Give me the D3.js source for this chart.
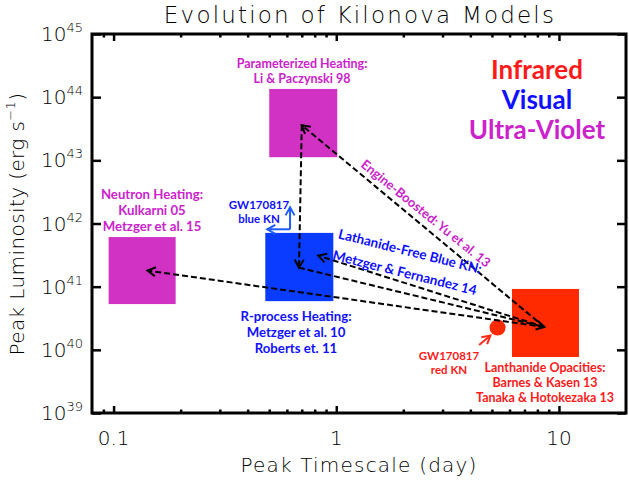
<!DOCTYPE html>
<html><head><meta charset="utf-8">
<script src="https://cdn.jsdelivr.net/npm/d3@7"></script>
<style>
html,body{margin:0;padding:0;background:#fff;}
svg{display:block;}
.thin{font-family:"DejaVu Sans",sans-serif;font-weight:200;fill:#000;}
.ann{font-family:"Lato",sans-serif;font-weight:bold;}
</style></head>
<body>
<svg id="c" width="629" height="480"></svg>
<script>
// ---------------- data ----------------
const models = ["Neutron Heating","Parameterized Heating","R-process Heating","Lanthanide Opacities"];
const modelBand = ["Ultra-Violet","Ultra-Violet","Visual","Infrared"];
const tMin = [0.095, 0.50, 0.48, 6.15];   // peak timescale (day)
const tMax = [0.19, 1.01, 0.97, 12.3];
const lMin = [5.3e40, 1.12e43, 5.9e40, 7.7e39]; // peak luminosity (erg/s)
const lMax = [6.1e41, 1.35e44, 7.1e41, 9.2e40];

const bands = ["Infrared","Visual","Ultra-Violet"];

// GW170817 red kilonova point
const redKN_t = [5.3];
const redKN_L = [2.25e40];

// dashed evolution arrows
const arrowFromT = [8.6, 0.70, 0.68, 8.6, 8.6];
const arrowFromL = [2.3e40, 3.6e43, 2.0e41, 2.3e40, 2.3e40];
const arrowToT   = [0.70, 0.68, 8.6, 0.83, 0.142];
const arrowToL   = [3.6e43, 2.0e41, 2.3e40, 3.1e41, 1.8e41];

// GW170817 blue KN marker (L-shaped arrow): corner, up tip, left tip
const blueArrowT = [0.62, 0.62, 0.49];
const blueArrowL = [8.1e41, 1.8e42, 8.1e41];
// GW170817 red KN pointer: start, end
const redArrowT = [4.38, 4.92];
const redArrowL = [1.19e40, 1.68e40];

const xTicks = [0.1, 1, 10];
const xTickLabels = ["0.1", "1", "10"];
const xMinor = [0.09,0.2,0.3,0.4,0.5,0.6,0.7,0.8,0.9,2,3,4,5,6,7,8,9];
const yTicks = [1e39,1e40,1e41,1e42,1e43,1e44,1e45];
const yTickExp = ["39","40","41","42","43","44","45"];

// ---------------- chart ----------------
const colors = {"Infrared":"#ff2a00","Visual":"#0a3cff","Ultra-Violet":"#d232c3"};
const textColors = {"Infrared":"#ff1a1a","Visual":"#1010ff","Ultra-Violet":"#cc22cc"};

const svg = d3.select("#c");
const L = 92, R = 626, T = 34, B = 413;
const x = d3.scaleLog().domain([0.08, 20]).range([L, R]);
const y = d3.scaleLog().domain([1e39, 1e45]).range([B, T]);

// boxes
svg.append("g").selectAll("rect").data(models).join("rect")
  .attr("x", (d,i)=>x(tMin[i]))
  .attr("width", (d,i)=>x(tMax[i])-x(tMin[i]))
  .attr("y", (d,i)=>y(lMax[i]))
  .attr("height", (d,i)=>y(lMin[i])-y(lMax[i]))
  .attr("fill", (d,i)=>colors[modelBand[i]]);

// red KN circle
svg.append("g").selectAll("circle").data(redKN_t).join("circle")
  .attr("cx", (d)=>x(d)).attr("cy",(d,i)=>y(redKN_L[i])).attr("r", 8)
  .attr("fill", colors["Infrared"]);

// markers
const defs = svg.append("defs");
function marker(id, color){
  defs.append("marker").attr("id", id).attr("viewBox","-10 -6 12 12")
    .attr("refX",0).attr("refY",0).attr("markerWidth",12).attr("markerHeight",12)
    .attr("markerUnits","userSpaceOnUse").attr("orient","auto")
    .append("path").attr("d","M-8,-4.5 L0,0 L-8,4.5").attr("fill","none")
    .attr("stroke", color).attr("stroke-width",2);
}
marker("ak","#000"); marker("ab","#1f5cff"); marker("ar","#ff2a1a");

// dashed arrows
svg.append("g").selectAll("line").data(arrowFromT).join("line")
  .attr("x1",(d)=>x(d)).attr("y1",(d,i)=>y(arrowFromL[i]))
  .attr("x2",(d,i)=>x(arrowToT[i])).attr("y2",(d,i)=>y(arrowToL[i]))
  .attr("stroke","#000").attr("stroke-width",2).attr("stroke-dasharray","6,3")
  .attr("marker-end","url(#ak)");

// blue KN L arrow
const bg = svg.append("g").attr("stroke","#1f5cff").attr("stroke-width",2).attr("fill","none");
[1,2].forEach(k=>{
  bg.append("line").attr("x1",x(blueArrowT[0])).attr("y1",y(blueArrowL[0]))
    .attr("x2",x(blueArrowT[k])).attr("y2",y(blueArrowL[k])).attr("marker-end","url(#ab)");
});
// red KN pointer
svg.append("line").attr("x1",x(redArrowT[0])).attr("y1",y(redArrowL[0]))
  .attr("x2",x(redArrowT[1])).attr("y2",y(redArrowL[1]))
  .attr("stroke","#ff2a1a").attr("stroke-width",2).attr("marker-end","url(#ar)");

// axes frame & ticks
function styleAxis(g){ g.select(".domain").remove(); g.selectAll("line").attr("stroke","#000").attr("stroke-width",2.5); g.selectAll("text").remove(); }
svg.append("g").attr("transform",`translate(0,${B})`).call(d3.axisBottom(x).tickValues(xTicks).tickSize(-7)).call(styleAxis);
svg.append("g").attr("transform",`translate(0,${B})`).call(d3.axisBottom(x).tickValues(xMinor).tickSize(-3.5)).call(styleAxis);
svg.append("g").attr("transform",`translate(0,${T})`).call(d3.axisTop(x).tickValues(xTicks).tickSize(-7)).call(styleAxis);
svg.append("g").attr("transform",`translate(0,${T})`).call(d3.axisTop(x).tickValues(xMinor).tickSize(-3.5)).call(styleAxis);
svg.append("g").attr("transform",`translate(${L},0)`).call(d3.axisLeft(y).tickValues(yTicks).tickSize(-9)).call(styleAxis);
svg.append("g").attr("transform",`translate(${R},0)`).call(d3.axisRight(y).tickValues(yTicks).tickSize(-9)).call(styleAxis);
svg.append("rect").attr("x",L).attr("y",T).attr("width",R-L).attr("height",B-T)
  .attr("fill","none").attr("stroke","#000").attr("stroke-width",3);

// tick labels
svg.append("g").selectAll("text").data(xTicks).join("text").attr("class","thin")
  .attr("x",d=>x(d)).attr("y",B+32).attr("text-anchor","middle").attr("font-size",20)
  .text((d,i)=>xTickLabels[i]);
const yl = svg.append("g").selectAll("text").data(yTicks).join("text").attr("class","thin")
  .attr("x",83).attr("y",d=>y(d)+7).attr("text-anchor","end");
yl.append("tspan").attr("font-size",20).text("10");
yl.append("tspan").attr("font-size",13).attr("dy",-9).text((d,i)=>yTickExp[i]);

// titles
svg.append("text").attr("class","thin").attr("x",360).attr("y",23).attr("text-anchor","middle")
  .attr("font-size",23).attr("letter-spacing",2.2).text("Evolution of Kilonova Models");
svg.append("text").attr("class","thin").attr("x",359).attr("y",472).attr("text-anchor","middle")
  .attr("font-size",20).attr("letter-spacing",1.2).text("Peak Timescale (day)");
const yt = svg.append("text").attr("class","thin").attr("transform","translate(24,224) rotate(-90)")
  .attr("text-anchor","middle").attr("font-size",20).attr("letter-spacing",0.4);
yt.append("tspan").text("Peak Luminosity (erg s");
yt.append("tspan").attr("font-size",13).attr("dy",-9).text("−1");
yt.append("tspan").attr("dy",9).text(")");

// legend
svg.append("g").selectAll("text").data(bands).join("text").attr("class","ann")
  .attr("x",537).attr("y",(d,i)=>79+i*30).attr("text-anchor","middle")
  .attr("font-size",26).attr("fill",d=>textColors[d]).text(d=>d);

// annotations
function lines(xc, y0, dy, arr, color, size, rot){
  const g = svg.append("g").attr("transform", rot?`rotate(${rot},${xc},${y0})`:null);
  arr.forEach((s,i)=>g.append("text").attr("class","ann").attr("x",xc).attr("y",y0+i*dy)
    .attr("text-anchor","middle").attr("font-size",size).attr("fill",color).text(s));
}
const uv = textColors["Ultra-Violet"], vis = textColors["Visual"], ir = textColors["Infrared"];
lines(302, 68, 15, ["Parameterized Heating:","Li & Paczynski 98"], uv, 12.5);
lines(152, 199, 15.8, ["Neutron Heating:","Kulkarni 05","Metzger et al. 15"], uv, 13.2);
lines(296, 321, 15.8, ["R-process Heating:","Metzger et al. 10","Roberts et. 11"], vis, 13.2);
lines(545, 372, 15, ["Lanthanide Opacities:","Barnes & Kasen 13","Tanaka & Hotokezaka 13"], ir, 12.5);
lines(259, 209, 14, ["GW170817","blue KN"], vis, 11.5);
lines(449, 360, 14, ["GW170817","red KN"], ir, 11.5);
lines(409, 256, 22, ["Lathanide-Free Blue KN:","Metzger & Fernandez 14"], vis, 13.5, 14);
lines(423, 217, 0, ["Engine-Boosted: Yu et al. 13"], uv, 13, 39);
</script>
</body></html>
